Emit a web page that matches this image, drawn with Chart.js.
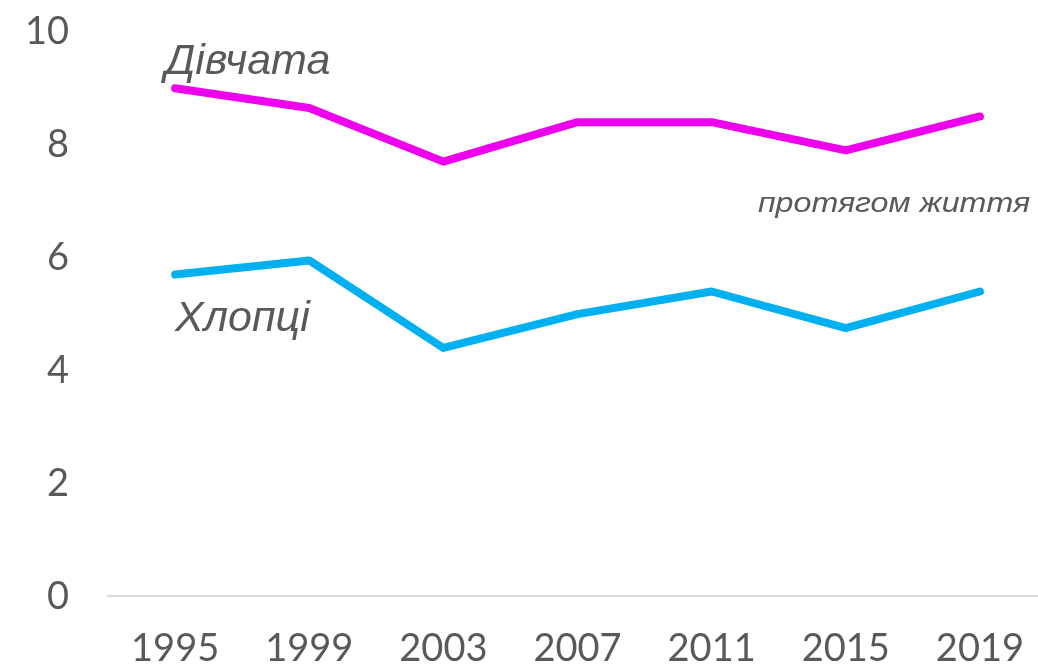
<!DOCTYPE html>
<html>
<head>
<meta charset="utf-8">
<script src="https://cdn.jsdelivr.net/npm/chart.js@4"></script>
<style>
  html, body { margin: 0; padding: 0; background: #fff; overflow: hidden; }
  #wrap { width: 1038px; height: 664px; overflow: hidden; position: relative; }
  #lifeChart { position: absolute; left: -39px; top: -30px; }
</style>
</head>
<body>
<div id="wrap"><canvas id="lifeChart" width="1093" height="732"></canvas></div>
<script>
// data
const years = ['1995', '1999', '2003', '2007', '2011', '2015', '2019'];
const girls = [9.0, 8.65, 7.7, 8.4, 8.4, 7.9, 8.5];   // Дівчата
const boys = [5.7, 5.95, 4.4, 5.0, 5.4, 4.75, 5.4];   // Хлопці
const yTicks = [0, 2, 4, 6, 8, 10];

const grey = '#595959';

// text labels placed on the plot, relative to the plot area
const notes = {
  id: 'notes',
  afterDatasetsDraw(chart) {
    const ctx = chart.ctx;
    const a = chart.chartArea;
    ctx.save();
    ctx.fillStyle = grey;
    ctx.textBaseline = 'alphabetic';
    ctx.font = 'italic 43px "Liberation Sans", Arial, sans-serif';
    ctx.textAlign = 'left';
    ctx.fillText('Дівчата', a.left + 57, a.top + 42);
    ctx.fillText('Хлопці', a.left + 67, a.top + 299);

    ctx.font = 'italic 28px "Liberation Sans", Arial, sans-serif';
    ctx.textAlign = 'right';
    ctx.translate(a.left + 922, a.top + 180);
    ctx.scale(1.15, 1);
    ctx.fillText('протягом життя', 0, 0);
    ctx.restore();
  }
};

const ctx = document.getElementById('lifeChart').getContext('2d');
new Chart(ctx, {
  type: 'line',
  data: {
    labels: years,
    datasets: [{
      label: 'Дівчата',
      data: girls,
      borderColor: '#ee00ee',
      borderWidth: 8,
      pointRadius: 0,
      tension: 0,
      borderCapStyle: 'round',
      borderJoinStyle: 'round',
      fill: false
    }, {
      label: 'Хлопці',
      data: boys,
      borderColor: '#00b0f0',
      borderWidth: 8,
      pointRadius: 0,
      tension: 0,
      borderCapStyle: 'round',
      borderJoinStyle: 'round',
      fill: false
    }]
  },
  options: {
    responsive: false,
    animation: false,
    layout: { padding: { left: 25, top: 7, right: 0, bottom: 0 } },
    plugins: {
      legend: { display: false },
      tooltip: { enabled: false }
    },
    scales: {
      x: {
        offset: true,
        grid: { display: false, drawTicks: false },
        border: { display: true, color: '#d9d9d9', width: 2 },
        ticks: {
          color: grey,
          padding: 30,
          maxRotation: 0,
          font: { family: 'Lato', size: 38 }
        }
      },
      y: {
        min: 0,
        max: 10,
        afterBuildTicks(axis) { axis.ticks = yTicks.map(v => ({ value: v })); },
        grid: { display: false, drawTicks: false },
        border: { display: false },
        ticks: {
          color: grey,
          padding: 39,
          font: { family: 'Lato', size: 38 }
        }
      }
    }
  },
  plugins: [notes]
});
</script>
</body>
</html>
